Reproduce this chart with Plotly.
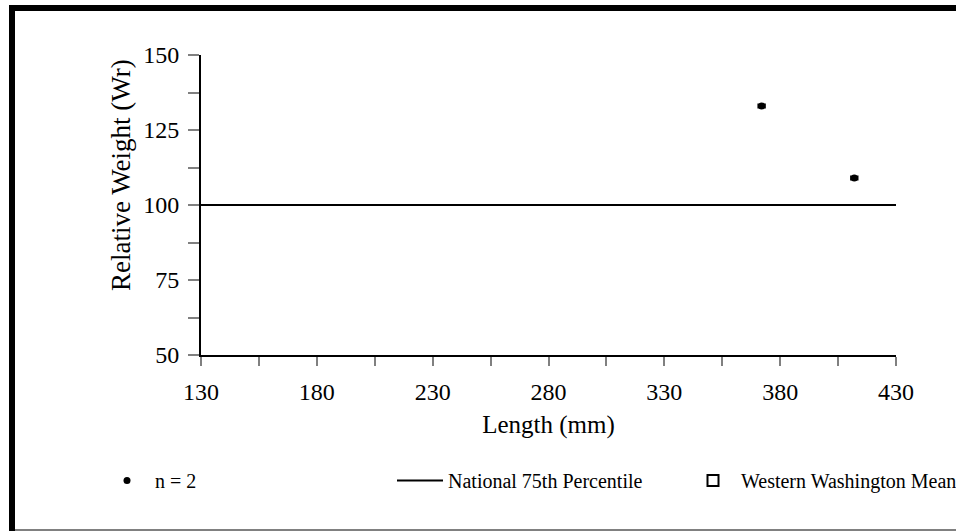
import plotly.graph_objects as go

# ---- data ----
lengths_mm = [372, 412]
rel_weight = [133, 109]
national_x = [130, 430]
national_y = [100, 100]
wwm_x = [None]
wwm_y = [None]
x_ticks = [130, 180, 230, 280, 330, 380, 430]
y_ticks = [50, 75, 100, 125, 150]

W, H = 956, 531
L, R, T, B = 201, 60, 55, 176
PW = W - L - R
PH = H - T - B

def px_x(p):
    return (p - L) / PW

def px_y(p):
    return (H - B - p) / PH

FONT = "Liberation Serif, Times New Roman, serif"
TICKGRAY = "#808080"

fig = go.Figure()
fig.add_trace(go.Scatter(x=lengths_mm, y=rel_weight, mode="markers", name="n = 2",
                         marker=dict(color="black", size=7, symbol="circle"),
                         cliponaxis=False))
fig.add_trace(go.Scatter(x=lengths_mm, y=rel_weight, mode="markers", showlegend=False,
                         marker=dict(color="black", size=6, symbol="line-ew",
                                     line=dict(width=5, color="black")),
                         cliponaxis=False, hoverinfo="skip"))
fig.add_trace(go.Scatter(x=national_x, y=national_y, mode="lines",
                         name="National 75th Percentile",
                         line=dict(color="black", width=2)))
fig.add_trace(go.Scatter(x=wwm_x, y=wwm_y, mode="markers",
                         name="Western Washington Mean", legendwidth=225,
                         marker=dict(color="white", size=11, symbol="square",
                                     line=dict(width=2, color="black"))))

tickfont = dict(family=FONT, size=24, color="black")

fig.update_layout(
    width=W, height=H,
    margin=dict(l=L, r=R, t=T, b=B, autoexpand=False),
    paper_bgcolor="white", plot_bgcolor="white",
    font=dict(family=FONT, color="black"),
    xaxis=dict(range=[x_ticks[0], x_ticks[-1]], tickvals=x_ticks, ticklen=9,
               showgrid=False, zeroline=False, showline=True, linecolor="black",
               linewidth=2, ticks="outside", tickcolor=TICKGRAY, tickwidth=2,
               tickfont=tickfont, ticklabelstandoff=5,
               minor=dict(dtick=25, tick0=130, ticks="outside", ticklen=9,
                          tickcolor=TICKGRAY, tickwidth=2, showgrid=False),
               title=dict(text="Length (mm)", standoff=12,
                          font=dict(family=FONT, size=25, color="black"))),
    yaxis=dict(range=[y_ticks[0], y_ticks[-1]], tickvals=y_ticks, ticklen=11,
               showgrid=False, zeroline=False, showline=True, linecolor="black",
               linewidth=2, ticks="outside", tickcolor=TICKGRAY, tickwidth=2,
               tickfont=tickfont, ticklabelstandoff=4,
               minor=dict(dtick=12.5, tick0=50, ticks="outside", ticklen=11,
                          tickcolor=TICKGRAY, tickwidth=2, showgrid=False)),
    annotations=[
        dict(text="Relative Weight (Wr)", textangle=-90, xref="paper", yref="paper",
             x=px_x(121), y=px_y(175), xanchor="center", yanchor="middle",
             showarrow=False, font=dict(family=FONT, size=27, color="black")),
    ],
    showlegend=True,
    legend=dict(orientation="h", x=px_x(99), xanchor="left",
                y=px_y(461), yanchor="top", entrywidth=232, entrywidthmode="pixels",
                font=dict(family=FONT, size=20, color="black"),
                bgcolor="rgba(0,0,0,0)", itemwidth=46, tracegroupgap=0),
    shapes=[
        dict(type="rect", xref="paper", yref="paper", x0=px_x(9), x1=px_x(15),
             y0=px_y(531), y1=px_y(5), fillcolor="black", line_width=0, layer="above"),
        dict(type="rect", xref="paper", yref="paper", x0=px_x(9), x1=px_x(956),
             y0=px_y(11), y1=px_y(5), fillcolor="black", line_width=0, layer="above"),
        dict(type="rect", xref="paper", yref="paper", x0=px_x(15), x1=px_x(956),
             y0=px_y(531), y1=px_y(529), fillcolor=TICKGRAY, line_width=0, layer="above"),
    ],
)

fig.write_html("out.html", config={"displayModeBar": False},
               post_script="document.body.style.margin='0px';")
